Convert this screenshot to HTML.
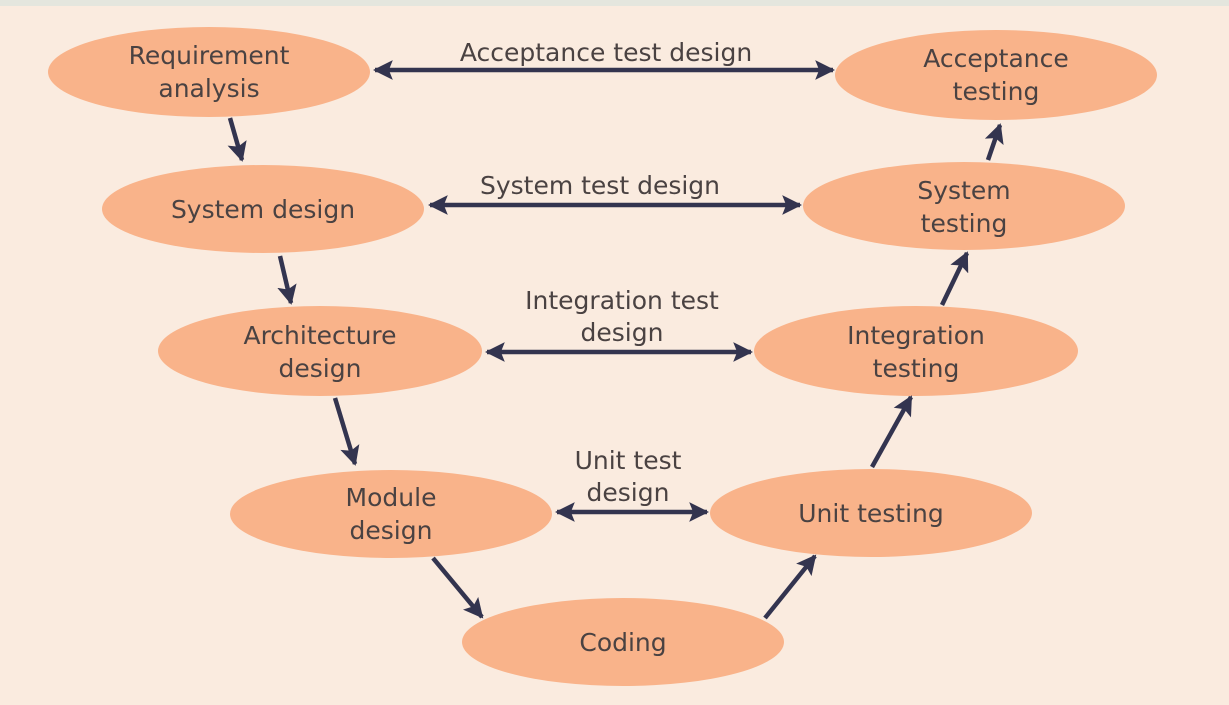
<!DOCTYPE html>
<html><head><meta charset="utf-8"><style>
html,body{margin:0;padding:0;background:#faebdf;}
svg{display:block}
text{font-family:"DejaVu Sans","Liberation Sans",sans-serif;font-size:25px;fill:#4a4242;text-anchor:middle;}
</style></head><body>
<svg width="1229" height="705" viewBox="0 0 1229 705" xmlns="http://www.w3.org/2000/svg">
<defs>
<marker id="a" viewBox="0 0 10 10" refX="9" refY="5" markerWidth="4.4" markerHeight="4.4" orient="auto-start-reverse" markerUnits="strokeWidth">
<path d="M0,0 L10,5 L0,10 L2,5 Z" fill="#33344f"/>
</marker>
</defs>
<rect x="0" y="0" width="1229" height="705" fill="#faebdf"/>
<rect x="0" y="0" width="1229" height="6" fill="#e4e6de"/>
<g fill="#f9b38a">
<ellipse cx="209" cy="72" rx="161" ry="45"/>
<ellipse cx="996" cy="75" rx="161" ry="45"/>
<ellipse cx="263" cy="209" rx="161" ry="44"/>
<ellipse cx="964" cy="206" rx="161" ry="44"/>
<ellipse cx="320" cy="351" rx="162" ry="45"/>
<ellipse cx="916" cy="351" rx="162" ry="45"/>
<ellipse cx="391" cy="514" rx="161" ry="44"/>
<ellipse cx="871" cy="513" rx="161" ry="44"/>
<ellipse cx="623" cy="642" rx="161" ry="44"/>
</g>
<g stroke="#33344f" stroke-width="4.5" fill="none">
<line x1="375" y1="70" x2="833" y2="70" marker-start="url(#a)" marker-end="url(#a)"/>
<line x1="430" y1="205" x2="800" y2="205" marker-start="url(#a)" marker-end="url(#a)"/>
<line x1="487" y1="352" x2="751" y2="352" marker-start="url(#a)" marker-end="url(#a)"/>
<line x1="557" y1="512" x2="707" y2="512" marker-start="url(#a)" marker-end="url(#a)"/>
<line x1="230" y1="118" x2="242" y2="160" marker-end="url(#a)"/>
<line x1="280" y1="256" x2="291" y2="303" marker-end="url(#a)"/>
<line x1="335" y1="398" x2="355" y2="464" marker-end="url(#a)"/>
<line x1="433" y1="558" x2="482" y2="617" marker-end="url(#a)"/>
<line x1="765" y1="618" x2="815" y2="556" marker-end="url(#a)"/>
<line x1="872" y1="467" x2="911" y2="397" marker-end="url(#a)"/>
<line x1="942" y1="305" x2="967" y2="253" marker-end="url(#a)"/>
<line x1="988" y1="160" x2="1000" y2="125" marker-end="url(#a)"/>
</g>
<text x="209" y="64">Requirement</text>
<text x="209" y="97">analysis</text>
<text x="996" y="67">Acceptance</text>
<text x="996" y="100">testing</text>
<text x="263" y="218">System design</text>
<text x="964" y="199">System</text>
<text x="964" y="232">testing</text>
<text x="320" y="344">Architecture</text>
<text x="320" y="377">design</text>
<text x="916" y="344">Integration</text>
<text x="916" y="377">testing</text>
<text x="391" y="506">Module</text>
<text x="391" y="539">design</text>
<text x="871" y="522">Unit testing</text>
<text x="623" y="651">Coding</text>
<text x="606" y="61">Acceptance test design</text>
<text x="600" y="194">System test design</text>
<text x="622" y="309">Integration test</text>
<text x="622" y="341">design</text>
<text x="628" y="469">Unit test</text>
<text x="628" y="501">design</text>
</svg>
</body></html>
